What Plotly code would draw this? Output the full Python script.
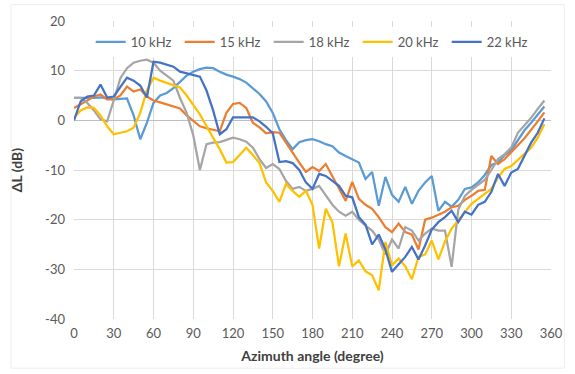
import plotly.graph_objects as go

# Azimuth angles in degrees (5-degree steps)
azimuth = list(range(0, 360, 5))

# Level difference ΔL (dB) per frequency
khz10 = [4.5, 4.5, 4.4, 4.5, 4.6, 4.4, 4.2, 4.3, 4.4, 1.0,
         -3.8, -0.5, 3.5, 5.0, 5.5, 6.5, 7.8, 9.0, 9.8, 10.3,
         10.6, 10.5, 9.8, 9.2, 8.8, 8.3, 7.6, 6.5, 5.3, 3.8,
         1.5, -1.8, -4.0, -5.8, -4.4, -4.0, -3.8, -4.2, -4.8, -5.2,
         -6.5, -7.2, -7.8, -8.5, -11.8, -10.4, -17.2, -11.4, -15.0, -16.4,
         -13.4, -16.8, -14.2, -12.5, -11.2, -18.2, -16.4, -17.4, -16.0, -13.8,
         -13.5, -12.5, -11.0, -9.0, -8.5, -7.0, -6.0, -4.0, -2.0, -0.5,
         1.2, 2.8]
khz15 = [2.5, 3.2, 4.0, 4.8, 5.2, 4.2, 4.2, 5.0, 6.8, 5.8,
         6.2, 4.8, 4.0, 3.6, 3.2, 2.9, 2.4, 1.0, -0.2, -1.2,
         -1.6, -1.9, -2.2, 1.5, 3.3, 3.5, 2.5, -0.5, -1.4, -2.6,
         -2.4, -2.5, -4.4, -6.5, -8.5, -10.4, -9.4, -10.2, -8.8, -11.2,
         -13.5, -16.2, -12.4, -15.8, -17.0, -17.8, -19.5, -21.5, -22.5, -20.8,
         -22.5, -23.0, -26.0, -20.0, -19.6, -19.0, -18.4, -17.5, -17.2, -16.0,
         -15.2, -14.2, -14.0, -7.2, -8.8, -7.8, -6.5, -5.0, -3.6, -2.0,
         -0.2, 1.6]
khz18 = [4.5, 4.5, 3.5, 2.0, 0.2, -0.2, 4.0, 8.5, 10.5, 11.6,
         12.0, 12.2, 11.6, 10.0, 9.0, 8.0, 4.5, 1.5, -3.0, -10.0,
         -4.8, -4.5, -4.4, -4.0, -3.5, -3.8, -4.3, -5.5, -7.8, -9.6,
         -8.8, -9.8, -12.2, -13.8, -13.4, -14.2, -13.8, -13.2, -15.0, -17.0,
         -18.4, -19.2, -18.4, -20.0, -21.2, -22.2, -24.0, -27.0, -24.0, -25.8,
         -21.5, -22.2, -24.2, -22.8, -21.8, -22.2, -22.2, -29.5, -18.0, -15.2,
         -14.0, -13.0, -12.0, -10.0, -7.8, -6.8, -5.5, -2.5, -1.0, 0.5,
         2.3, 4.0]
khz20 = [0.5, 2.0, 2.6, 2.5, 1.0, -1.2, -2.8, -2.5, -2.2, -1.5,
         1.5, 6.0, 8.6, 8.0, 7.5, 7.0, 6.6, 5.0, 3.0, 1.2,
         -1.2, -3.5, -5.8, -8.5, -8.4, -7.0, -5.5, -7.0, -8.6, -12.5,
         -14.2, -16.4, -12.8, -14.2, -15.4, -14.2, -17.0, -25.8, -17.8, -20.5,
         -29.4, -22.8, -29.4, -28.2, -30.4, -31.2, -34.2, -24.5, -29.2, -27.8,
         -29.4, -32.0, -27.5, -27.0, -24.2, -28.0, -24.4, -21.8, -20.2, -18.4,
         -16.8, -15.8, -14.8, -13.8, -11.5, -9.8, -9.2, -8.0, -6.8, -5.5,
         -3.5, -0.8]
khz22 = [0.0, 3.8, 4.8, 5.0, 7.2, 4.6, 4.8, 6.8, 8.6, 8.0,
         7.0, 4.6, 11.8, 11.6, 11.2, 10.8, 9.8, 9.5, 9.2, 8.8,
         6.0, 2.0, -2.8, -1.8, 0.6, 0.6, 0.6, 0.6, -0.2, -1.3,
         -2.6, -8.4, -8.2, -8.6, -10.0, -12.5, -13.8, -10.8, -11.2, -12.2,
         -13.2, -15.2, -15.5, -19.5, -21.0, -25.0, -23.0, -26.0, -30.5, -29.0,
         -27.5, -25.5, -28.0, -25.2, -22.0, -20.5, -19.5, -18.2, -20.5, -18.4,
         -19.0, -17.0, -16.4, -14.4, -10.8, -13.2, -10.5, -9.8, -7.0, -4.5,
         -2.5, 0.4]

series_names = ["10 kHz", "15 kHz", "18 kHz", "20 kHz", "22 kHz"]
series_values = [khz10, khz15, khz18, khz20, khz22]
series_colors = ["#5B9BD5", "#ED7D31", "#A5A5A5", "#FFC000", "#4472C4"]

# Axis ticks
x_ticks = list(range(0, 361, 30))
y_ticks = [20, 10, 0, -10, -20, -30, -40]
y_tick_labels = ["20", "10", "0", "-10", "-20", "-30", "-40"]

FONT = "Lato, 'Open Sans', sans-serif"

fig = go.Figure()
for name, vals, col in zip(series_names, series_values, series_colors):
    fig.add_trace(go.Scatter(
        x=azimuth, y=vals, mode="lines", name=name,
        line=dict(color=col, width=2.25),
    ))

fig.update_layout(
    width=575, height=374,
    margin=dict(l=74, r=16, t=21, b=54),
    paper_bgcolor="white", plot_bgcolor="white",
    font=dict(family=FONT, color="#595959", size=13),
    showlegend=True,
    legend=dict(
        orientation="h", x=0.035, y=0.93, xanchor="left", yanchor="middle",
        bgcolor="white", font=dict(size=13, color="#595959"),
        entrywidth=44, entrywidthmode="pixels", itemwidth=30, tracegroupgap=0,
    ),
    xaxis=dict(
        range=[0, 360], tickvals=x_ticks, showgrid=True, gridcolor="#D9D9D9",
        gridwidth=1.3, zeroline=False, showline=False, ticks="",
        ticklabelstandoff=5,
        tickfont=dict(size=13, color="#595959"),
        title=dict(text="<b>Azimuth angle (degree)</b>", standoff=11,
                   font=dict(size=14, color="#404040")),
    ),
    yaxis=dict(
        range=[-40, 20], tickvals=y_ticks, ticktext=y_tick_labels,
        showgrid=True, gridcolor="#D9D9D9", gridwidth=1.3,
        zeroline=True, zerolinecolor="#BFBFBF", zerolinewidth=1.3,
        showline=False, ticks="", ticklabelstandoff=8,
        tickfont=dict(size=13, color="#595959"),
        title=dict(text="<b>ΔL (dB)</b>", standoff=19,
                   font=dict(size=14, color="#404040")),
    ),
)

# faint outer frame of the chart area
fig.add_shape(type="rect", xref="paper", yref="paper",
              x0=-0.132, x1=1.028, y0=-0.165, y1=1.055,
              line=dict(color="#EDEDED", width=1), layer="below")

fig.write_html("out.html")
